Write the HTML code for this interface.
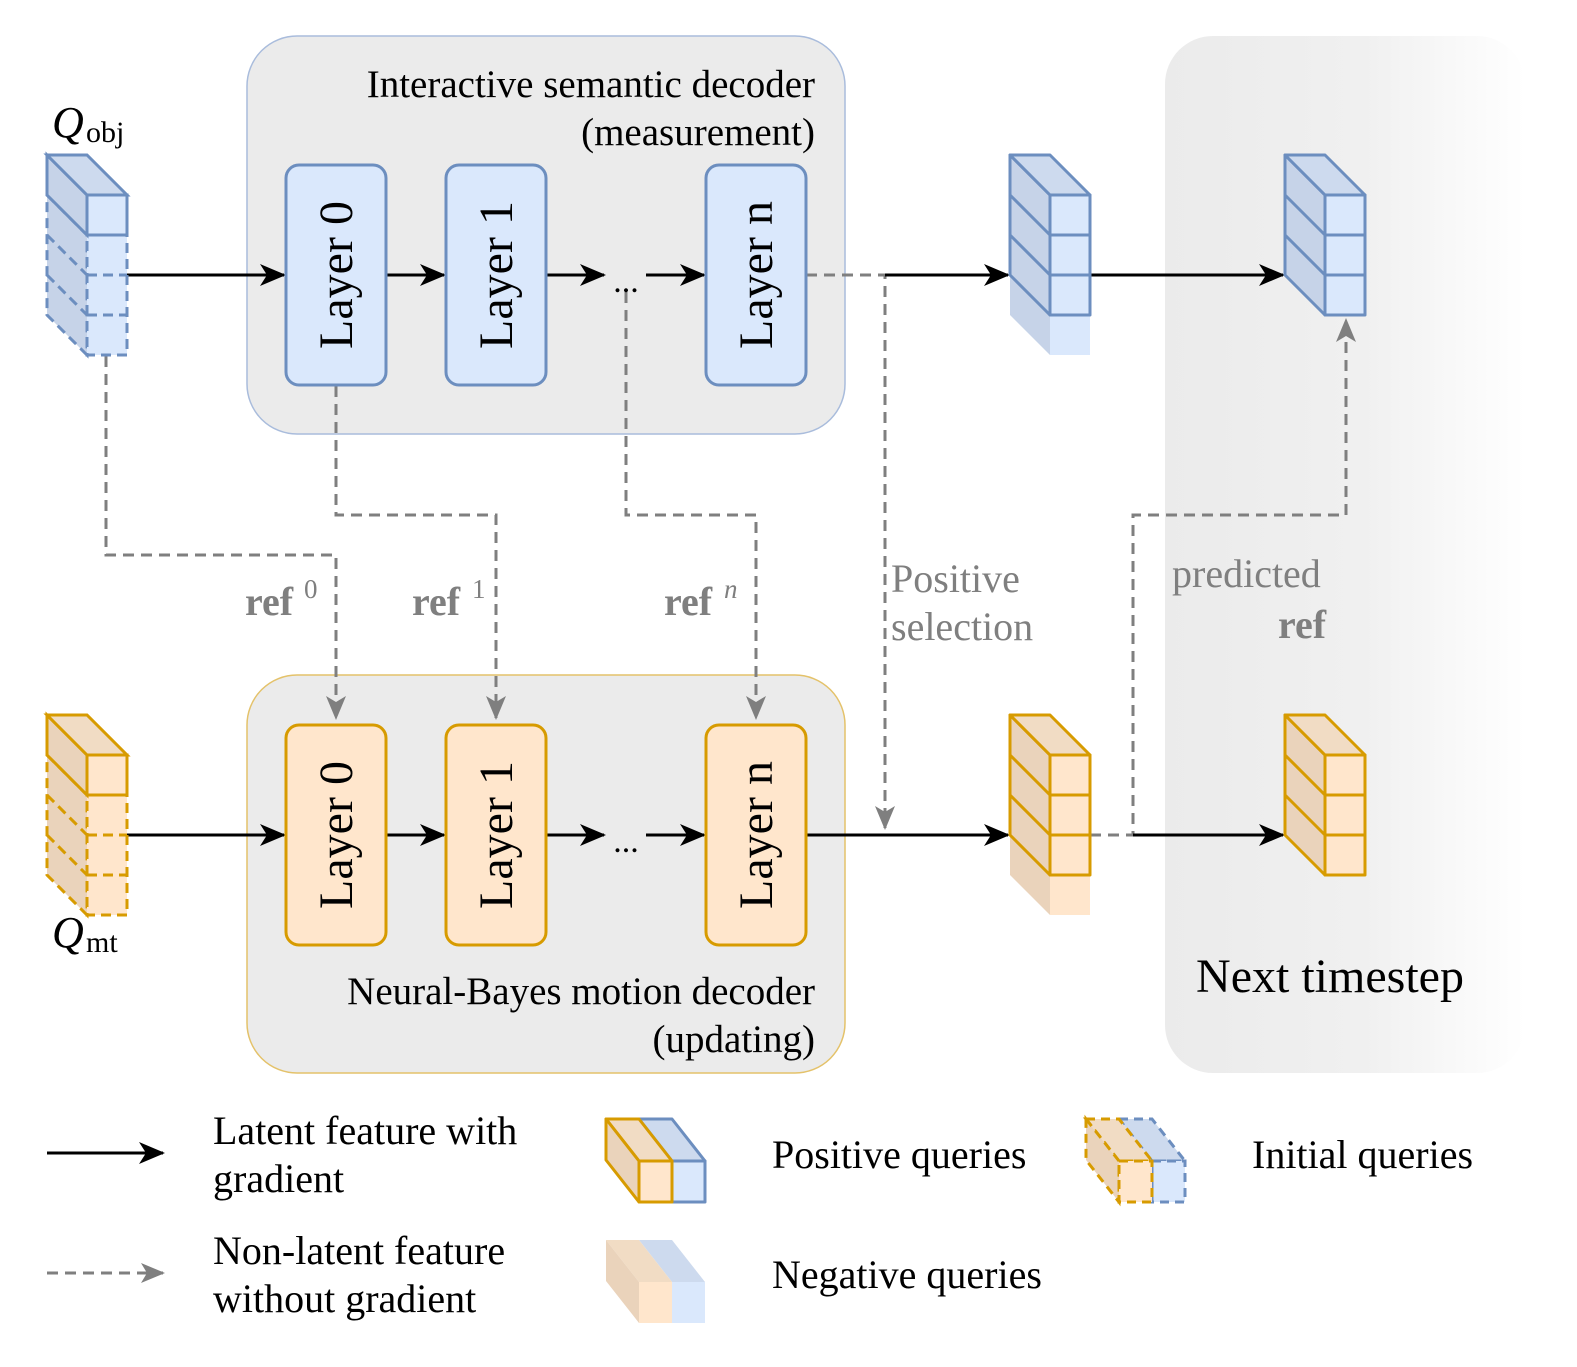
<!DOCTYPE html>
<html><head><meta charset="utf-8"><style>
body{margin:0;background:#fff}
svg{display:block}
text{font-family:"Liberation Serif",serif}
</style></head><body>
<svg width="1577" height="1367" viewBox="0 0 1577 1367" xmlns="http://www.w3.org/2000/svg">
<defs>
<linearGradient id="ng" x1="0" x2="1" y1="0" y2="0">
<stop offset="0" stop-color="#ebebeb"/><stop offset="0.55" stop-color="#f0f0f0"/><stop offset="1" stop-color="#ffffff"/></linearGradient>
<marker id="ak" markerWidth="26" markerHeight="26" refX="24" refY="13" orient="auto" markerUnits="userSpaceOnUse"><path d="M0,2 L26,13 L0,24 L7,13z" fill="#000"/></marker>
<marker id="ag" markerWidth="24" markerHeight="24" refX="22" refY="12" orient="auto" markerUnits="userSpaceOnUse"><path d="M0,2 L24,12 L0,22 L6,12z" fill="#7f7f7f"/></marker>

<g id="bpos">
<polygon points="0,120 40,160 40,200 0,160" fill="#c6d3e8"/><rect x="40" y="160" width="40" height="40" fill="#dae8fc"/>
<g stroke="#6c8ebf" stroke-width="3" stroke-linejoin="round">
<polygon points="0,0 40,40 40,160 0,120" fill="#c6d3e8"/>
<polygon points="0,0 40,0 80,40 40,40" fill="#cddaee"/>
<rect x="40" y="40" width="40" height="120" fill="#dae8fc"/>
<path d="M40,80H80M40,120H80M0,40L40,80M0,80L40,120" fill="none"/></g></g>
<g id="opos">
<polygon points="0,120 40,160 40,200 0,160" fill="#ead3bb"/><rect x="40" y="160" width="40" height="40" fill="#ffe6cc"/>
<g stroke="#d79b00" stroke-width="3" stroke-linejoin="round">
<polygon points="0,0 40,40 40,160 0,120" fill="#ead3bb"/>
<polygon points="0,0 40,0 80,40 40,40" fill="#f1dcc4"/>
<rect x="40" y="40" width="40" height="120" fill="#ffe6cc"/>
<path d="M40,80H80M40,120H80M0,40L40,80M0,80L40,120" fill="none"/></g></g>
<g id="b3">
<g stroke="#6c8ebf" stroke-width="3" stroke-linejoin="round">
<polygon points="0,0 40,40 40,160 0,120" fill="#c6d3e8"/>
<polygon points="0,0 40,0 80,40 40,40" fill="#cddaee"/>
<rect x="40" y="40" width="40" height="120" fill="#dae8fc"/>
<path d="M40,80H80M40,120H80M0,40L40,80M0,80L40,120" fill="none"/></g></g>
<g id="o3">
<g stroke="#d79b00" stroke-width="3" stroke-linejoin="round">
<polygon points="0,0 40,40 40,160 0,120" fill="#ead3bb"/>
<polygon points="0,0 40,0 80,40 40,40" fill="#f1dcc4"/>
<rect x="40" y="40" width="40" height="120" fill="#ffe6cc"/>
<path d="M40,80H80M40,120H80M0,40L40,80M0,80L40,120" fill="none"/></g></g>
<g id="binit">
<g stroke="#6c8ebf" stroke-width="3">
<polygon points="0,40 40,80 40,200 0,160" fill="#c6d3e8" stroke-dasharray="10,6"/>
<rect x="40" y="80" width="40" height="120" fill="#dae8fc" stroke-dasharray="10,6"/>
<path d="M40,120H80M40,160H80M0,80L40,120M0,120L40,160" fill="none" stroke-dasharray="10,6"/>
<polygon points="0,0 40,40 40,80 0,40" fill="#c6d3e8"/>
<polygon points="0,0 40,0 80,40 40,40" fill="#cddaee"/>
<rect x="40" y="40" width="40" height="40" fill="#dae8fc"/></g></g>
<g id="oinit">
<g stroke="#d79b00" stroke-width="3">
<polygon points="0,40 40,80 40,200 0,160" fill="#ead3bb" stroke-dasharray="10,6"/>
<rect x="40" y="80" width="40" height="120" fill="#ffe6cc" stroke-dasharray="10,6"/>
<path d="M40,120H80M40,160H80M0,80L40,120M0,120L40,160" fill="none" stroke-dasharray="10,6"/>
<polygon points="0,0 40,40 40,80 0,40" fill="#ead3bb"/>
<polygon points="0,0 40,0 80,40 40,40" fill="#f1dcc4"/>
<rect x="40" y="40" width="40" height="40" fill="#ffe6cc"/></g></g>
</defs>

<rect x="1165" y="36" width="360" height="1037" rx="48" fill="url(#ng)"/>
<rect x="247" y="36" width="598" height="398" rx="50" fill="#ebebeb" stroke="#a9bcdc" stroke-width="1.5"/>
<rect x="247" y="675" width="598" height="398" rx="50" fill="#ebebeb" stroke="#e4c26a" stroke-width="1.5"/>

<text x="815" y="97" font-size="39" text-anchor="end">Interactive semantic decoder</text>
<text x="815" y="145" font-size="39" text-anchor="end">(measurement)</text>
<text x="815" y="1004" font-size="39" text-anchor="end">Neural-Bayes motion decoder</text>
<text x="815" y="1052" font-size="39" text-anchor="end">(updating)</text>
<text x="1330" y="992" font-size="48" text-anchor="middle">Next timestep</text>

<g stroke="#7f7f7f" stroke-width="3" fill="none" stroke-dasharray="11,7">
<path d="M106,356V555H336V718" marker-end="url(#ag)"/>
<path d="M336,386V515H496V718" marker-end="url(#ag)"/>
<path d="M626,292V515H756V718" marker-end="url(#ag)"/>
<path d="M806,275H885V828" marker-end="url(#ag)"/>
<path d="M1090,835H1133V515H1346V320" marker-end="url(#ag)"/>
</g>

<g stroke="#000" stroke-width="3" fill="none">
<path d="M127,275H284" marker-end="url(#ak)"/>
<path d="M386,275H444" marker-end="url(#ak)"/>
<path d="M546,275H604" marker-end="url(#ak)"/>
<path d="M646,275H704" marker-end="url(#ak)"/>
<path d="M885,275H1008" marker-end="url(#ak)"/>
<path d="M1090,275H1283" marker-end="url(#ak)"/>
<path d="M127,835H284" marker-end="url(#ak)"/>
<path d="M386,835H444" marker-end="url(#ak)"/>
<path d="M546,835H604" marker-end="url(#ak)"/>
<path d="M646,835H704" marker-end="url(#ak)"/>
<path d="M806,835H1008" marker-end="url(#ak)"/>
<path d="M1133,835H1283" marker-end="url(#ak)"/>
</g>
<text x="626" y="292" font-size="34" text-anchor="middle">...</text>
<text x="626" y="852" font-size="34" text-anchor="middle">...</text>

<g stroke="#6c8ebf" stroke-width="3" fill="#dae8fc">
<rect x="286" y="165" width="100" height="220" rx="13"/>
<rect x="446" y="165" width="100" height="220" rx="13"/>
<rect x="706" y="165" width="100" height="220" rx="13"/>
</g>
<g stroke="#d79b00" stroke-width="3" fill="#ffe6cc">
<rect x="286" y="725" width="100" height="220" rx="13"/>
<rect x="446" y="725" width="100" height="220" rx="13"/>
<rect x="706" y="725" width="100" height="220" rx="13"/>
</g>
<g font-size="48" text-anchor="middle">
<text transform="translate(352,275) rotate(-90)">Layer 0</text>
<text transform="translate(512,275) rotate(-90)">Layer 1</text>
<text transform="translate(772,275) rotate(-90)">Layer n</text>
<text transform="translate(352,835) rotate(-90)">Layer 0</text>
<text transform="translate(512,835) rotate(-90)">Layer 1</text>
<text transform="translate(772,835) rotate(-90)">Layer n</text>
</g>

<use href="#binit" x="47" y="155"/>
<use href="#bpos" x="1010" y="155"/>
<use href="#b3" x="1285" y="155"/>
<use href="#oinit" x="47" y="715"/>
<use href="#opos" x="1010" y="715"/>
<use href="#o3" x="1285" y="715"/>

<text x="52" y="137" font-size="44" font-style="italic">Q</text><text x="86" y="142" font-size="30">obj</text>
<text x="52" y="947" font-size="44" font-style="italic">Q</text><text x="86" y="952" font-size="30">mt</text>

<g fill="#7f7f7f" font-size="40">
<text x="245" y="615" font-weight="bold">ref</text><text x="304" y="598" font-size="27">0</text>
<text x="412" y="615" font-weight="bold">ref</text><text x="472" y="598" font-size="27">1</text>
<text x="664" y="615" font-weight="bold">ref</text><text x="724" y="598" font-size="27" font-style="italic">n</text>
<text x="891" y="592">Positive</text>
<text x="891" y="640">selection</text>
<text x="1172" y="587">predicted</text>
<text x="1278" y="638" font-weight="bold">ref</text>
</g>

<path d="M47,1153H163" stroke="#000" stroke-width="3" marker-end="url(#ak)"/>
<path d="M47,1273H163" stroke="#7f7f7f" stroke-width="3" stroke-dasharray="11,7" marker-end="url(#ag)"/>
<g font-size="40">
<text x="213" y="1144">Latent feature with</text>
<text x="213" y="1192">gradient</text>
<text x="213" y="1264">Non-latent feature</text>
<text x="213" y="1312">without gradient</text>
<text x="772" y="1168">Positive queries</text>
<text x="772" y="1288">Negative queries</text>
<text x="1252" y="1168">Initial queries</text>
</g>
<g stroke-width="3" stroke-linejoin="round">
<polygon points="639,1119 672,1119 705,1161 672,1161" fill="#cddaee" stroke="#6c8ebf"/>
<rect x="672" y="1161" width="33" height="41" fill="#dae8fc" stroke="#6c8ebf"/>
<polygon points="606,1119 639,1119 672,1161 639,1161" fill="#f1dcc4" stroke="#d79b00"/>
<polygon points="606,1119 639,1161 639,1202 606,1160" fill="#ead3bb" stroke="#d79b00"/>
<rect x="639" y="1161" width="33" height="41" fill="#ffe6cc" stroke="#d79b00"/>
</g>
<g>
<polygon points="639,1240 672,1240 705,1282 672,1282" fill="#cddaee"/>
<rect x="672" y="1282" width="33" height="41" fill="#dae8fc"/>
<polygon points="606,1240 639,1240 672,1282 639,1282" fill="#f1dcc4"/>
<polygon points="606,1240 639,1282 639,1323 606,1281" fill="#ead3bb"/>
<rect x="639" y="1282" width="33" height="41" fill="#ffe6cc"/>
</g>
<g stroke-width="3" stroke-dasharray="9,6">
<polygon points="1119,1119 1152,1119 1185,1161 1152,1161" fill="#cddaee" stroke="#6c8ebf"/>
<rect x="1152" y="1161" width="33" height="41" fill="#dae8fc" stroke="#6c8ebf"/>
<polygon points="1086,1119 1119,1119 1152,1161 1119,1161" fill="#f1dcc4" stroke="#d79b00"/>
<polygon points="1086,1119 1119,1161 1119,1202 1086,1160" fill="#ead3bb" stroke="#d79b00"/>
<rect x="1119" y="1161" width="33" height="41" fill="#ffe6cc" stroke="#d79b00"/>
</g>
</svg>
</body></html>
